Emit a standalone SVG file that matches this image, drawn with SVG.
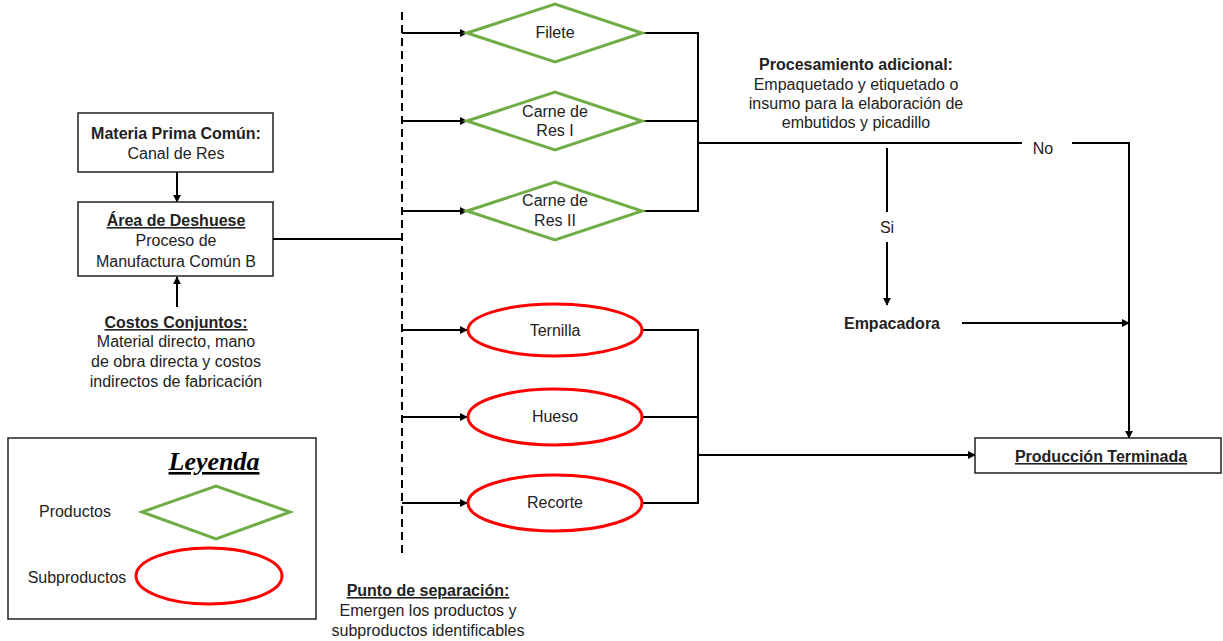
<svg xmlns="http://www.w3.org/2000/svg" width="1223" height="641" viewBox="0 0 1223 641">
<defs>
<marker id="ah" viewBox="0 0 10 10" refX="9" refY="5" markerWidth="8" markerHeight="8" markerUnits="userSpaceOnUse" orient="auto">
<path d="M0,0 L10,5 L0,10 z" fill="#000"/>
</marker>
<style>
text{font-family:"Liberation Sans",Arial,sans-serif;font-size:16px;fill:#222;text-anchor:middle}
.b{font-weight:bold}
.u{text-decoration:underline}
.box{fill:#fff;stroke:#222;stroke-width:1.5}
.dia{fill:#fff;stroke:#70AD47;stroke-width:3}
.ell{fill:#fff;stroke:#FF0000;stroke-width:3}
.ln{fill:none;stroke:#000;stroke-width:2}
.ar{fill:none;stroke:#000;stroke-width:2;marker-end:url(#ah)}
.dash{fill:none;stroke:#000;stroke-width:2;stroke-dasharray:8 5}
</style>
</defs>
<rect width="1223" height="641" fill="#fff"/>

<g id="connectors">
<line class="ar" x1="177" y1="172" x2="177" y2="202"/>
<line class="ar" x1="177" y1="307" x2="177" y2="277"/>
<line class="ln" x1="273" y1="239" x2="402" y2="239"/>
<line class="dash" x1="402" y1="12" x2="402" y2="558"/>
<line class="ar" x1="402" y1="33" x2="467" y2="33"/>
<line class="ar" x1="402" y1="121" x2="467" y2="121"/>
<line class="ar" x1="402" y1="211" x2="467" y2="211"/>
<line class="ar" x1="402" y1="330" x2="467" y2="330"/>
<line class="ar" x1="402" y1="417" x2="467" y2="417"/>
<line class="ar" x1="402" y1="503" x2="467" y2="503"/>
<polyline class="ln" points="642,33 698,33 698,211 642,211"/>
<line class="ln" x1="642" y1="121" x2="698" y2="121"/>
<polyline class="ln" points="642,330 698,330 698,503 642,503"/>
<line class="ln" x1="642" y1="417" x2="698" y2="417"/>
<line class="ar" x1="698" y1="455" x2="975" y2="455"/>
<line class="ln" x1="698" y1="143" x2="1022" y2="143"/>
<polyline class="ar" points="1072,143 1129,143 1129,438"/>
<line class="ln" x1="887" y1="148" x2="887" y2="212"/>
<line class="ar" x1="887" y1="242" x2="887" y2="305"/>
<line class="ar" x1="962" y1="323" x2="1129" y2="323"/>
<text x="1043" y="154">No</text>
<text x="887" y="233">Si</text>
</g>

<g id="materia-prima">
<rect class="box" x="78" y="113" width="195" height="59"/>
<text class="b" x="176" y="139">Materia Prima Común:</text>
<text x="176" y="159">Canal de Res</text>
</g>

<g id="area-deshuese">
<rect class="box" x="78" y="202" width="195" height="74"/>
<text class="b u" x="176" y="226">Área de Deshuese</text>
<text x="176" y="246">Proceso de</text>
<text x="176" y="267">Manufactura Común B</text>
</g>

<g id="costos-conjuntos">
<text class="b u" x="176" y="328">Costos Conjuntos:</text>
<text x="176" y="347">Material directo, mano</text>
<text x="176" y="367">de obra directa y costos</text>
<text x="176" y="387">indirectos de fabricación</text>
</g>

<g id="filete">
<polygon class="dia" points="467,33 555,4 642,33 555,62"/>
<text x="555" y="38">Filete</text>
</g>
<g id="carne-res-1">
<polygon class="dia" points="467,121 555,92 642,121 555,150"/>
<text x="555" y="117">Carne de</text>
<text x="555" y="136">Res I</text>
</g>
<g id="carne-res-2">
<polygon class="dia" points="467,211 555,182 642,211 555,240"/>
<text x="555" y="206">Carne de</text>
<text x="555" y="226">Res II</text>
</g>

<g id="ternilla">
<ellipse class="ell" cx="555" cy="330" rx="87" ry="26"/>
<text x="555" y="336">Ternilla</text>
</g>
<g id="hueso">
<ellipse class="ell" cx="555" cy="417" rx="87" ry="28"/>
<text x="555" y="422">Hueso</text>
</g>
<g id="recorte">
<ellipse class="ell" cx="555" cy="503" rx="87" ry="28"/>
<text x="555" y="508">Recorte</text>
</g>

<g id="procesamiento">
<text class="b" x="856" y="70">Procesamiento adicional:</text>
<text x="856" y="90">Empaquetado y etiquetado o</text>
<text x="856" y="109">insumo para la elaboración de</text>
<text x="856" y="128">embutidos y picadillo</text>
</g>

<g id="empacadora">
<text class="b" x="892" y="329">Empacadora</text>
</g>

<g id="produccion">
<rect class="box" x="975" y="438" width="246" height="35"/>
<text class="b u" x="1101" y="462">Producción Terminada</text>
</g>

<g id="punto-separacion">
<text class="b u" x="428" y="596">Punto de separación:</text>
<text x="428" y="616">Emergen los productos y</text>
<text x="428" y="636">subproductos identificables</text>
</g>

<g id="leyenda">
<rect class="box" x="8" y="438" width="308" height="181"/>
<text class="b u" x="214" y="470" style="font-family:'Liberation Serif','Times New Roman',serif;font-style:italic;font-size:26px;fill:#000">Leyenda</text>
<text x="75" y="517">Productos</text>
<polygon class="dia" points="142,512 216,486 290,512 216,539"/>
<text x="77" y="583">Subproductos</text>
<ellipse class="ell" cx="209" cy="576" rx="73" ry="28"/>
</g>
</svg>
